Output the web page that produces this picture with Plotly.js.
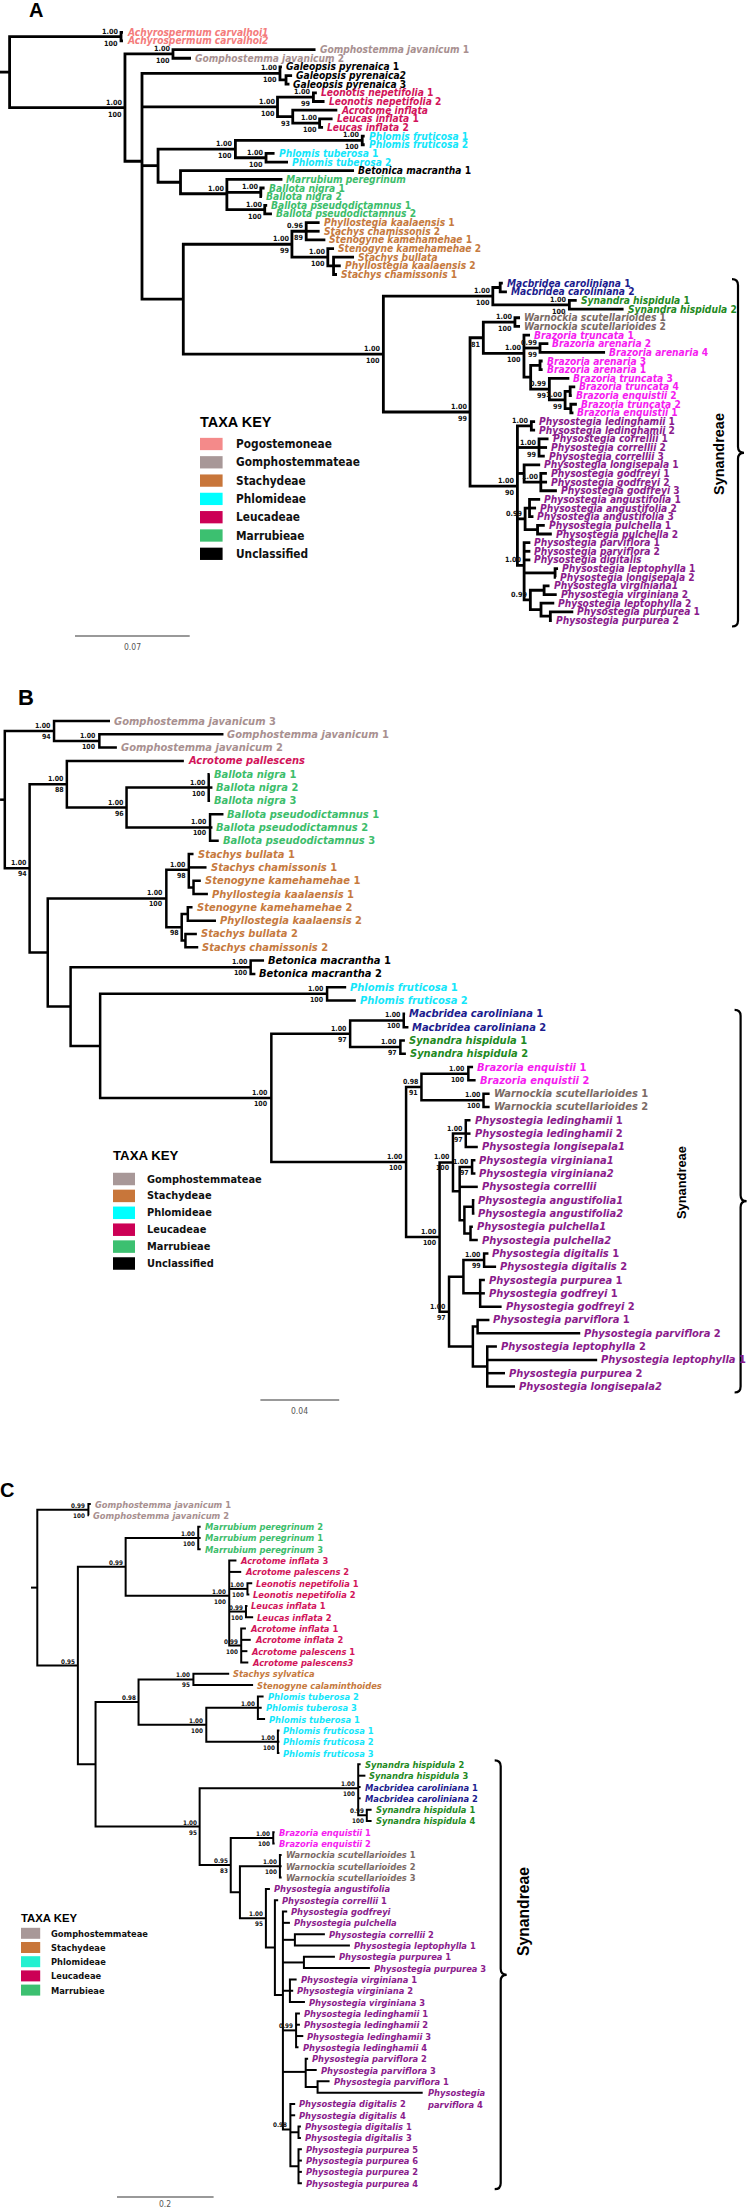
<!DOCTYPE html>
<html><head><meta charset="utf-8">
<script src="https://cdn.plot.ly/plotly-3.0.1.min.js"></script>
<style>html,body{margin:0;padding:0;background:#fff}</style>
</head><body><div id="chart" style="width:749px;height:2209px"></div>
<script>
// ---------------- DATA ----------------
// Trees in Newick: branch lengths in substitutions/site, internal labels "posterior|bootstrap"
const treeA = "((Achyrospermum_carvalhoi1:0.0012,Achyrospermum_carvalhoi2:0.0012)1.00|100:0.0680," +
 "((Gomphostemma_javanicum_1:0.0870,Gomphostemma_javanicum_2:0.0110)1.00|100:0.0293," +
 "((Galeopsis_pyrenaica_1:0.0012,(Galeopsis_pyrenaica2:0.0037,Galeopsis_pyrenaica_3:0.0021):0.0037)1.00|100:0.0842," +
 "((Leonotis_nepetifolia_1:0.0021,Leonotis_nepetifolia_2:0.0068)1.00|99:0.0219,(Acrotome_inflata:0.0272,(Leucas_inflata_1:0.0079,Leucas_inflata_2:0.0021)1.00|100:0.0164)|93:0.0093)1.00|100:0.0827," +
 "(((Phlomis_fruticosa_1:0.0015,Phlomis_fruticosa_2:0.0015)1.00|100:0.0774,(Phlomis_tuberosa_1:0.0052,Phlomis_tuberosa_2:0.0134)1.00|100:0.0187)1.00|100:0.0472," +
 "(Betonica_macrantha_1:0.1059,(Marrubium_peregrinum:0.0339,(Ballota_nigra_1:0.0023,Ballota_nigra_2:0.0007)1.00|:0.0207,(Ballota_pseudodictamnus_1:0.0015,Ballota_pseudodictamnus_2:0.0044)1.00|100:0.0231)1.00|:0.0283):0.0137):0.0098," +
 "(((Phyllostegia_kaalaensis_1:0.0082,Stachys_chamissonis_2:0.0082,Stenogyne_kamehamehae_1:0.0117)0.96|89:0.0087,(Stenogyne_kamehamehae_2:0.0038,(Stachys_bullata:0.0125,Phyllostegia_kaalaensis_2:0.0044,Stachys_chamissonis_1:0.0021):0.0035)1.00|100:0.0219)1.00|99:0.0663," +
 "(((Macbridea_caroliniana_1:0.0016,Macbridea_caroliniana_2:0.0041):0.0045,(Synandra_hispidula_1:0.0045,Synandra_hispidula_2:0.0331)1.00|100:0.0467)1.00|100:0.0668," +
 "(((Warnockia_scutellarioides_1:0.0031,Warnockia_scutellarioides_2:0.0031)1.00|100:0.0193,(Brazoria_truncata_1:0.0037,(Brazoria_arenaria_2:0.0051,Brazoria_arenaria_4:0.0397)0.99|99:0.0098,((Brazoria_arenaria_3:0.0016,Brazoria_arenaria_1:0.0016):0.0057,(Brazoria_truncata_3:0.0122,((Brazoria_truncata_4:0.0031,Brazoria_enquistii_2:0.0010):0.0031,(Brazoria_truncata_2:0.0037,Brazoria_enquistii_1:0.0016):0.0035)1.00|99:0.0096)0.99|99:0.0114):0.0041)1.00|100:0.0248)|81:0.0081," +
 "((Physostegia_ledinghamii_1:0.0023,Physostegia_ledinghamii_2:0.0023)1.00|:0.0085,(Physostegia_correllii_1:0.0058,Physostegia_correllii_2:0.0049,Physostegia_correllii_3:0.0035)1.00|99:0.0132,(Physostegia_longisepala_1:0.0098,(Physostegia_godfreyi_1:0.0037,Physostegia_godfreyi_2:0.0038,Physostegia_godfreyi_3:0.0098)1.00|:0.0102):0.0041,((Physostegia_angustifolia_1:0.0065,Physostegia_angustifolia_2:0.0040,Physostegia_angustifolia_3:0.0024):0.0027,(Physostegia_pulchella_1:0.0044,Physostegia_pulchella_2:0.0087):0.0076)0.99|:0.0047,(Physostegia_parviflora_1:0.0038,Physostegia_parviflora_2:0.0038,Physostegia_digitalis:0.0038,(Physostegia_leptophylla_1:0.0018,Physostegia_longisepala_2:0.0005):0.0189,((Physostegia_virginiana1:0.0033,Physostegia_virginiana_2:0.0077):0.0084,(Physostegia_leptophylla_2:0.0081,(Physostegia_purpurea_1:0.0140,Physostegia_purpurea_2:0.0009):0.0057):0.0065)0.99|:0.0038)1.00|:0.0041)1.00|90:0.0289)1.00|99:0.0529)1.00|100:0.1221):0.0252):0.0104)1.00|100:0.0704):0.0059;";

const treeB = "((Gomphostemma_javanicum_3:0.0284,(Gomphostemma_javanicum_1:0.0630,Gomphostemma_javanicum_2:0.0089)1.00|100:0.0230)1.00|94:0.0250," +
 "((Acrotome_pallescens:0.0594,((Ballota_nigra_1:0.0005,Ballota_nigra_2:0.0019,Ballota_nigra_3:0.0007)1.00|100:0.0417,(Ballota_pseudodictamnus_1:0.0068,Ballota_pseudodictamnus_2:0.0012,Ballota_pseudodictamnus_3:0.0044)1.00|100:0.0424)1.00|96:0.0303)1.00|88:0.0189," +
 "(((Stachys_bullata_1:0.0024,Stachys_chamissonis_1:0.0090,(Stenogyne_kamehamehae_1:0.0037,Phyllostegia_kaalaensis_1:0.0073):0.0024)1.00|98:0.0114,((Stenogyne_kamehamehae_2:0.0024,Phyllostegia_kaalaensis_2:0.0143):0.0031,(Stachys_bullata_2:0.0058,Stachys_chamissonis_2:0.0065):0.0019)|98:0.0078)1.00|100:0.0602," +
 "((Betonica_macrantha_1:0.0068,Betonica_macrantha_2:0.0024)1.00|100:0.0914," +
 "((Phlomis_fruticosa_1:0.0097,Phlomis_fruticosa_2:0.0146)1.00|100:0.1152," +
 "(((Macbridea_caroliniana_1:0.0007,Macbridea_caroliniana_2:0.0024)1.00|100:0.0272,(Synandra_hispidula_1:0.0023,Synandra_hispidula_2:0.0028)1.00|97:0.0255)1.00|97:0.0400," +
 "(((Brazoria_enquistii_1:0.0024,Brazoria_enquistii_2:0.0037)1.00|100:0.0238,(Warnockia_scutellarioides_1:0.0031,Warnockia_scutellarioides_2:0.0031)1.00|100:0.0315)0.98|91:0.0078," +
 "(((Physostegia_ledinghamii_1:0.0024,Physostegia_ledinghamii_2:0.0024,Physostegia_longisepala1:0.0061)1.00|97:0.0065,((Physostegia_virginiana1:0.0017,Physostegia_virginiana2:0.0017)1.00|97:0.0063,Physostegia_correllii:0.0092,((Physostegia_angustifolia1:0.0007,Physostegia_angustifolia2:0.0007):0.0044,(Physostegia_pulchella1:0.0012,Physostegia_pulchella2:0.0037):0.0031):0.0024):0.0034)1.00|100:0.0068," +
 "(((Physostegia_digitalis_1:0.0022,Physostegia_digitalis_2:0.0061)1.00|99:0.0105,(Physostegia_purpurea_1:0.0024,Physostegia_godfreyi_1:0.0024,Physostegia_godfreyi_2:0.0109):0.0085):0.0073," +
 "((Physostegia_parviflora_1:0.0060,Physostegia_parviflora_2:0.0521):0.0024,(Physostegia_leptophylla_2:0.0049,Physostegia_leptophylla_1:0.0558,Physostegia_purpurea_2:0.0090,Physostegia_longisepala2:0.0141):0.0073):0.0121)1.00|97:0.0048)1.00|100:0.0170)1.00|100:0.0684)1.00|100:0.0869):0.0150):0.0116):0.0092)1.00|94:0.0126):0.0024;";

const treeC = "((Gomphostemma_javanicum_1:0.0050,Gomphostemma_javanicum_2:0.0010)0.99|100:0.1058," +
 "(((Marrubium_peregrinum_2:0.0050,Marrubium_peregrinum_1:0.0050,Marrubium_peregrinum_3:0.0050)1.00|100:0.1503," +
 "(Acrotome_inflata_3:0.0149,Acrotome_palescens_2:0.0248,(Leonotis_nepetifolia_1:0.0099,Leonotis_nepetifolia_2:0.0039)1.00|100:0.0377,(Leucas_inflata_1:0.0031,Leucas_inflata_2:0.0149)0.99|100:0.0346,(Acrotome_inflata_1:0.0097,Acrotome_inflata_2:0.0197,Acrotome_palescens_1:0.0128,Acrotome_palescens3:0.0147)0.99|100:0.0248)1.00|100:0.2145)0.99|:0.0989," +
 "(((Stachys_sylvatica:0.0741,Stenogyne_calaminthoides:0.1236)1.00|95:0.1136,((Phlomis_tuberosa_2:0.0118,Phlomis_tuberosa_3:0.0079,Phlomis_tuberosa_1:0.0149)1.00|:0.1068,(Phlomis_fruticosa_1:0.0031,Phlomis_fruticosa_2:0.0031,Phlomis_fruticosa_3:0.0031)1.00|100:0.1482)1.00|100:0.1403)0.98|:0.0890," +
 "((Synandra_hispidula_2:0.0050,Synandra_hispidula_3:0.0149,Macbridea_caroliniana_1:0.0050,Macbridea_caroliniana_2:0.0050,(Synandra_hispidula_1:0.0099,Synandra_hispidula_4:0.0099)0.99|100:0.0178)1.00|100:0.3283," +
 "((Brazoria_enquistii_1:0.0029,Brazoria_enquistii_2:0.0029)1.00|100:0.0880," +
 "((Warnockia_scutellarioides_1:0.0035,Warnockia_scutellarioides_2:0.0035,Warnockia_scutellarioides_3:0.0035)1.00|100:0.0828," +
 "(Physostegia_angustifolia:0.0083,(Physostegia_correllii_1:0.0068,(Physostegia_godfreyi:0.0089,Physostegia_pulchella:0.0145,(Physostegia_correllii_2:0.0621,Physostegia_leptophylla_1:0.1139):0.0248,(Physostegia_purpurea_1:0.0642,Physostegia_purpurea_3:0.1366):0.0435,(Physostegia_virginiana_1:0.0139,Physostegia_virginiana_2:0.0068,Physostegia_virginiana_3:0.0311):0.0145,(Physostegia_ledinghamii_1:0.0079,Physostegia_ledinghamii_2:0.0079,Physostegia_ledinghamii_3:0.0149,Physostegia_ledinghamii_4:0.0050)0.99|:0.0273,(Physostegia_parviflora_2:0.0050,Physostegia_parviflora_3:0.0228,(Physostegia_parviflora_1:0.0248,Physostegia~parviflora_4:0.2176):0.0246):0.0472,(Physostegia_digitalis_2:0.0099,Physostegia_digitalis_4:0.0099,(Physostegia_digitalis_1:0.0050,Physostegia_digitalis_3:0.0050):0.0168,(Physostegia_purpurea_5:0.0070,Physostegia_purpurea_6:0.0070,Physostegia_purpurea_2:0.0070,Physostegia_purpurea_4:0.0070):0.0168)0.98|:0.0155):0.0166):0.0186)1.00|95:0.0538):0.0190)0.95|83:0.0644)1.00|95:0.2155):0.0366)0.95|:0.0840):0.0130;";

const panelLetters = ['A', 'B', 'C'];
const scaleValues = [0.07, 0.04, 0.2];
const keyTitle = 'TAXA KEY';
const tribesA = ['Pogostemoneae', 'Gomphostemmateae', 'Stachydeae', 'Phlomideae', 'Leucadeae', 'Marrubieae', 'Unclassified'];
const tribesB = ['Gomphostemmateae', 'Stachydeae', 'Phlomideae', 'Leucadeae', 'Marrubieae', 'Unclassified'];
const tribesC = ['Gomphostemmateae', 'Stachydeae', 'Phlomideae', 'Leucadeae', 'Marrubieae'];
const cladeName = 'Synandreae';
const cladeGenera = ['Macbridea', 'Synandra', 'Warnockia', 'Brazoria', 'Physostegia'];

// ---------------- STYLE ----------------
const W = 749, H = 2209;
const tribeColor = {Pogostemoneae:'#F48A8A', Gomphostemmateae:'#A89898', Stachydeae:'#C8763A',
  Phlomideae:'#00FFFF', Leucadeae:'#CC0055', Marrubieae:'#3CC070', Unclassified:'#000000'};
const genusColor = {Achyrospermum:'#F47C7C', Gomphostemma:'#A89090', Galeopsis:'#000000', Betonica:'#000000',
  Leonotis:'#D2145A', Leucas:'#D2145A', Acrotome:'#D2145A', Phlomis:'#14E6FA', Marrubium:'#3DBD6B', Ballota:'#3DBD6B',
  Stachys:'#C67A3E', Stenogyne:'#C67A3E', Phyllostegia:'#C67A3E', Macbridea:'#1C1C8E', Synandra:'#1F8A1F',
  Warnockia:'#7B6B66', Brazoria:'#F51CF0', Physostegia:'#8A1B8C'};

// font detection and width fitting with the fonts actually installed
const cv = document.createElement('canvas').getContext('2d');
function hasFont(name) {
  const s = 'abcdefghijklmnopqrstuvwxyzABCDEFGHIJKLM0123456789';
  for (const base of ['monospace', 'serif']) {
    cv.font = '40px ' + base; const a = cv.measureText(s).width;
    cv.font = '40px "' + name + '", ' + base; const b = cv.measureText(s).width;
    if (Math.abs(a - b) > 0.5) return true;
  }
  return false;
}
const narrowName = ['Liberation Sans Narrow', 'Arial Narrow', 'Nimbus Sans Narrow', 'DejaVu Sans Condensed', 'Liberation Sans']
  .find(hasFont) || 'sans-serif';
const NARROW = '"' + narrowName + '", sans-serif';
const SANS = '"Liberation Sans", Arial, sans-serif';
function fitSize(family, style, weight, pairs) {
  cv.font = style + ' ' + weight + ' 100px ' + family;
  let m = 0, t = 0;
  pairs.forEach(([txt, w]) => { m += cv.measureText(txt).width; t += w; });
  return 100 * t / m;
}

const panels = [
  {tree: treeA, tribes: tribesA, ax: '', rootPx: 9.6, ppu: 1638.6, tip0: 32.3, step: 8.65, lw: 2.8,
   tipFit: [['Gomphostemma javanicum 1', 150], ['Physostegia leptophylla 1', 133.5], ['Synandra hispidula 2', 108]],
   supFit: [['1.00', 16]], letter: {x: 36, y: 10, s: 20},
   scale: {x: 75, y: 636, ly: 647},
   key: {x: 198, ty: 422, r0: 444, rs: 18.3, sw: 22.6, sh: 12.3, tx: 234, tw: 72, ew: 124},
   brace: {x: 738, tx: 719, ty: 454, w: 82}},
  {tree: treeB, tribes: tribesB, ax: '2', rootPx: 4.8, ppu: 1970, tip0: 721, step: 13.31, lw: 2.5,
   tipFit: [['Gomphostemma javanicum 1', 166], ['Physostegia leptophylla 1', 142], ['Betonica macrantha 2', 122]],
   supFit: [['1.00', 15.5]], letter: {x: 26, y: 697, s: 22},
   scale: {x: 260.4, y: 1400, ly: 1411},
   key: {x: 111, ty: 1155, r0: 1179, rs: 16.9, sw: 22, sh: 12.5, tx: 144.8, tw: 66, ew: 114.7},
   brace: {x: 740.6, tx: 681, ty: 1183, w: 73}},
  {tree: treeC, tribes: tribesC, ax: '3', rootPx: 37.3, ppu: 483, tip0: 1504, step: 11.32, lw: 2.0,
   tipFit: [['Gomphostemma javanicum 1', 138.6], ['Physostegia leptophylla 1', 120], ['Physostegia purpurea 3', 111.7]],
   supFit: [['1.00', 14]], letter: {x: 7, y: 1490, s: 20},
   scale: {x: 117, y: 2197, ly: 2203.5},
   key: {x: 19, ty: 1918, r0: 1933.3, rs: 14.2, sw: 19.2, sh: 11, tx: 48.7, tw: 56.5, ew: 97, phl: '#22F0D0'},
   brace: {x: 500.7, tx: 523, ty: 1912, w: 89}}
];

// ---------------- HELPERS ----------------
function parseNewick(str) {
  const s = str.replace(/\s+/g, '');
  let i = 0;
  function node() {
    const n = {children: [], name: '', len: 0};
    if (s[i] === '(') {
      i++;
      n.children.push(node());
      while (s[i] === ',') { i++; n.children.push(node()); }
      i++;
    }
    let name = '';
    while (i < s.length && !',():;'.includes(s[i])) name += s[i++];
    n.name = name;
    if (s[i] === ':') {
      i++;
      let l = '';
      while (i < s.length && !',();'.includes(s[i])) l += s[i++];
      n.len = parseFloat(l);
    }
    return n;
  }
  return node();
}
function layoutTree(root) {
  let k = 0; const tips = [], internals = [];
  (function walk(n, x) {
    n.x = x;
    if (!n.children.length) { n.y = k++; tips.push(n); }
    else {
      n.children.forEach(c => walk(c, x + c.len));
      n.y = n.children.reduce((a, c) => a + c.y, 0) / n.children.length;
      internals.push(n);
    }
  })(root, 0);
  return {tips, internals};
}
const px = v => v / W;
const py = v => 1 - v / H;
function tipText(raw) {
  const lines = raw.replace(/_/g, ' ').split('~');
  const last = lines[lines.length - 1];
  const m = last.match(/^(.*?)( \d+)$/);
  let html;
  if (m) {
    lines[lines.length - 1] = m[1];
    html = '<i>' + lines.join('<br>') + '</i>' + m[2];
  } else {
    html = '<i>' + lines.join('<br>') + '</i>';
  }
  return {html: '<b>' + html + '</b>', multi: lines.length > 1};
}

// ---------------- BUILD ----------------
const traces = [], annotations = [], shapes = [];
const layout = {width: W, height: H, margin: {l: 0, r: 0, t: 0, b: 0}, paper_bgcolor: '#fff',
  plot_bgcolor: 'rgba(0,0,0,0)', showlegend: false, annotations, shapes};

panels.forEach((p, pi) => {
  const xa = 'x' + p.ax, ya = 'y' + p.ax;
  layout['xaxis' + p.ax] = {domain: [0, 1], range: [-p.rootPx / p.ppu, (W - p.rootPx) / p.ppu], visible: false,
    fixedrange: true, anchor: ya};
  layout['yaxis' + p.ax] = {domain: [0, 1], range: [(H - p.tip0) / p.step, -p.tip0 / p.step], visible: false,
    fixedrange: true, anchor: xa};

  const tipSize = fitSize(NARROW, 'italic', 'bold', p.tipFit);
  const supSize = fitSize(NARROW, 'normal', 'bold', p.supFit);
  const keyTitleSize = fitSize(SANS, 'normal', 'bold', [[keyTitle, p.key.tw]]);
  const keyEntrySize = fitSize(NARROW, 'normal', 'bold', [['Gomphostemmateae', p.key.ew]]);
  const cladeSize = fitSize(SANS, 'normal', 'bold', [[cladeName, p.brace.w]]);

  const root = parseNewick(p.tree);
  const {tips, internals} = layoutTree(root);

  // branches
  const X = [], Y = [];
  X.push(-root.len, 0, null); Y.push(root.y, root.y, null);
  internals.forEach(n => {
    const c = n.children, f = c[0], l = c[c.length - 1];
    X.push(f.x, n.x, n.x, l.x, null); Y.push(f.y, f.y, l.y, l.y, null);
    for (let j = 1; j < c.length - 1; j++) { X.push(n.x, c[j].x, null); Y.push(c[j].y, c[j].y, null); }
  });
  traces.push({type: 'scatter', mode: 'lines', x: X, y: Y, xaxis: xa, yaxis: ya, hoverinfo: 'skip',
    line: {color: '#000', width: p.lw, shape: 'linear'}});

  // support values
  internals.forEach(n => {
    if (!n.name) return;
    const [post, boot] = n.name.split('|');
    if (post) annotations.push({xref: xa, yref: ya, x: n.x, y: n.y, text: '<b>' + post + '</b>', showarrow: false,
      xanchor: 'right', yanchor: 'bottom', xshift: -2, yshift: 0, borderpad: 0,
      font: {family: NARROW, size: supSize, color: '#111'}});
    if (boot) annotations.push({xref: xa, yref: ya, x: n.x, y: n.y, text: '<b>' + boot + '</b>', showarrow: false,
      xanchor: 'right', yanchor: 'top', xshift: -2, yshift: -1, borderpad: 0,
      font: {family: NARROW, size: supSize, color: '#111'}});
  });

  // tip labels
  tips.forEach(t => {
    const genus = t.name.split(/[_~]/)[0];
    const tt = tipText(t.name);
    annotations.push({xref: xa, yref: ya, x: t.x, y: t.y, text: tt.html, showarrow: false,
      xanchor: 'left', yanchor: tt.multi ? 'top' : 'middle', yshift: tt.multi ? tipSize * 0.7 : 0,
      xshift: 3, align: 'left', borderpad: 0,
      font: {family: NARROW, size: tipSize, color: genusColor[genus] || '#000'}});
  });

  // panel letter
  annotations.push({xref: 'paper', yref: 'paper', x: px(p.letter.x), y: py(p.letter.y), text: '<b>' + panelLetters[pi] + '</b>',
    showarrow: false, xanchor: 'center', yanchor: 'middle', font: {family: SANS, size: p.letter.s, color: '#000'}});

  // scale bar
  const sx0 = (p.scale.x - p.rootPx) / p.ppu;
  shapes.push({type: 'line', xref: xa, yref: 'paper', x0: sx0, x1: sx0 + scaleValues[pi], y0: py(p.scale.y), y1: py(p.scale.y),
    line: {color: '#777', width: 1.5}});
  annotations.push({xref: xa, yref: 'paper', x: sx0 + scaleValues[pi] / 2, y: py(p.scale.ly), text: String(scaleValues[pi]),
    showarrow: false, xanchor: 'center', yanchor: 'middle', borderpad: 0, font: {family: NARROW, size: 8.5, color: '#555'}});

  // taxa key
  const k = p.key;
  annotations.push({xref: 'paper', yref: 'paper', x: px(k.x), y: py(k.ty), text: '<b>' + keyTitle + '</b>', showarrow: false,
    xanchor: 'left', yanchor: 'middle', font: {family: SANS, size: keyTitleSize, color: '#000'}});
  p.tribes.forEach((tr, j) => {
    const yc = k.r0 + j * k.rs;
    const col = (tr === 'Phlomideae' && k.phl) ? k.phl : tribeColor[tr];
    shapes.push({type: 'rect', xref: 'paper', yref: 'paper', x0: px(k.x + 2), x1: px(k.x + 2 + k.sw),
      y0: py(yc - k.sh / 2), y1: py(yc + k.sh / 2), fillcolor: col, line: {width: 0}});
    annotations.push({xref: 'paper', yref: 'paper', x: px(k.tx), y: py(yc), text: '<b>' + tr + '</b>', showarrow: false,
      xanchor: 'left', yanchor: 'middle', font: {family: NARROW, size: keyEntrySize, color: '#111'}});
  });

  // clade brace
  const cladeTips = tips.filter(t => cladeGenera.includes(t.name.split(/[_~]/)[0])).map(t => t.y);
  const top = p.tip0 + p.step * Math.min(...cladeTips) - 4;
  const bot = p.tip0 + p.step * Math.max(...cladeTips) + 6;
  const mid = (top + bot) / 2, bx = p.brace.x, r = 6;
  const P = (a, b) => px(a) + ',' + py(b);
  const path = 'M ' + P(bx - r, top) + ' Q ' + P(bx, top) + ' ' + P(bx, top + r) + ' L ' + P(bx, mid - r) +
    ' Q ' + P(bx, mid) + ' ' + P(bx + r, mid) + ' Q ' + P(bx, mid) + ' ' + P(bx, mid + r) +
    ' L ' + P(bx, bot - r) + ' Q ' + P(bx, bot) + ' ' + P(bx - r, bot);
  shapes.push({type: 'path', xref: 'paper', yref: 'paper', path, line: {color: '#000', width: 2.2}});
  annotations.push({xref: 'paper', yref: 'paper', x: px(p.brace.tx), y: py(p.brace.ty), text: '<b>' + cladeName + '</b>',
    textangle: -90, showarrow: false, xanchor: 'center', yanchor: 'middle', font: {family: SANS, size: cladeSize, color: '#000'}});
});

Plotly.newPlot('chart', traces, layout, {staticPlot: true, displayModeBar: false});
</script></body></html>
